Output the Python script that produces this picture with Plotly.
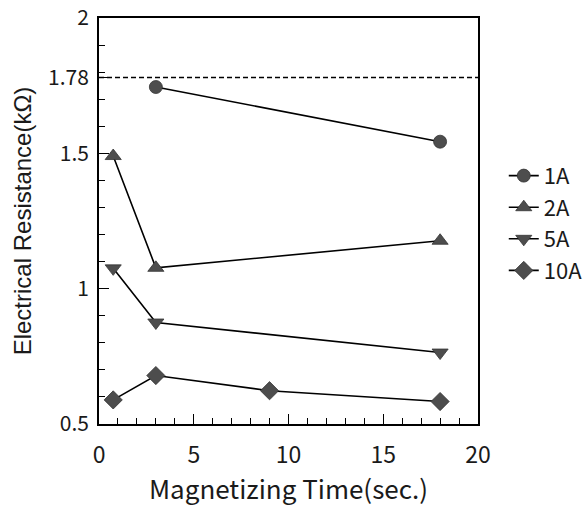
import plotly.graph_objects as go

# ---- data ----
series_names = ["1A", "2A", "5A", "10A"]
x_1A = [3, 18]
y_1A = [1.745, 1.543]
x_2A = [0.75, 3, 18]
y_2A = [1.49, 1.077, 1.177]
x_5A = [0.75, 3, 18]
y_5A = [1.075, 0.875, 0.764]
x_10A = [0.75, 3, 9, 18]
y_10A = [0.589, 0.679, 0.623, 0.583]
threshold = 1.78

x_tick_vals = [0, 5, 10, 15, 20]
x_tick_text = ["0", "5", "10", "15", "20"]
y_tick_vals = [0.5, 1, 1.5, 1.78, 2]
y_tick_text = ["0.5", "1", "1.5", "1.78", "2"]

xs = [x_1A, x_2A, x_5A, x_10A]
ys = [y_1A, y_2A, y_5A, y_10A]
symbols = ["circle", "triangle-up", "triangle-down", "diamond"]
sizes = [13, 14, 14, 14]

CJK = "Noto Sans CJK JP"
fill = "#4d4d4d"

fig = go.Figure()
for name, x, y, sym, sz in zip(series_names, xs, ys, symbols, sizes):
    fig.add_trace(go.Scatter(
        x=x, y=y, name=name, mode="lines+markers",
        line=dict(color="black", width=1.6),
        marker=dict(symbol=sym, size=sz, color=fill,
                    line=dict(color="#333333", width=0.8)),
    ))

fig.add_shape(type="line", xref="x domain", yref="y",
              x0=0, x1=1, y0=threshold, y1=threshold,
              line=dict(color="black", width=1.5, dash="5px,3px"))

fig.update_layout(
    width=586, height=506,
    margin=dict(l=99, r=108, t=18, b=82, autoexpand=False),
    paper_bgcolor="white", plot_bgcolor="white",
    font=dict(family=CJK, color="#1a1a1a"),
    legend=dict(x=1.068, xanchor="left", y=0.663, yanchor="top",
                font=dict(family=CJK, size=22, color="#1a1a1a"),
                itemwidth=30, bgcolor="rgba(0,0,0,0)", tracegroupgap=0),
)

fig.update_xaxes(
    automargin=False,
    range=[0, 20], tickmode="array", tickvals=x_tick_vals, ticktext=x_tick_text,
    ticks="inside", ticklen=10, tickwidth=1.3, tickcolor="black",
    minor=dict(dtick=1, tick0=0, ticks="inside", ticklen=6, tickwidth=1.2, tickcolor="black"),
    showline=True, linecolor="black", linewidth=1.8, mirror=True,
    showgrid=False, zeroline=False,
    tickfont=dict(family=CJK, size=23, color="#1a1a1a"),
    ticklabelstandoff=9,
    title=dict(text="Magnetizing Time(sec.)", font=dict(family=CJK, size=26, color="#1a1a1a"), standoff=21),
)
fig.update_yaxes(
    automargin=False,
    range=[0.5, 2], tickmode="array", tickvals=y_tick_vals, ticktext=y_tick_text,
    ticks="inside", ticklen=10, tickwidth=1.3, tickcolor="black",
    minor=dict(dtick=0.1, tick0=0.5, ticks="inside", ticklen=6, tickwidth=1.2, tickcolor="black"),
    showline=True, linecolor="black", linewidth=1.8, mirror=True,
    showgrid=False, zeroline=False,
    tickfont=dict(family=CJK, size=21, color="#1a1a1a"),
    ticklabelstandoff=4,
    title=dict(text="Electrical Resistance(kΩ)", font=dict(family="Liberation Sans", size=24, color="#1a1a1a"), standoff=10),
)

fig.write_html("out.html")
